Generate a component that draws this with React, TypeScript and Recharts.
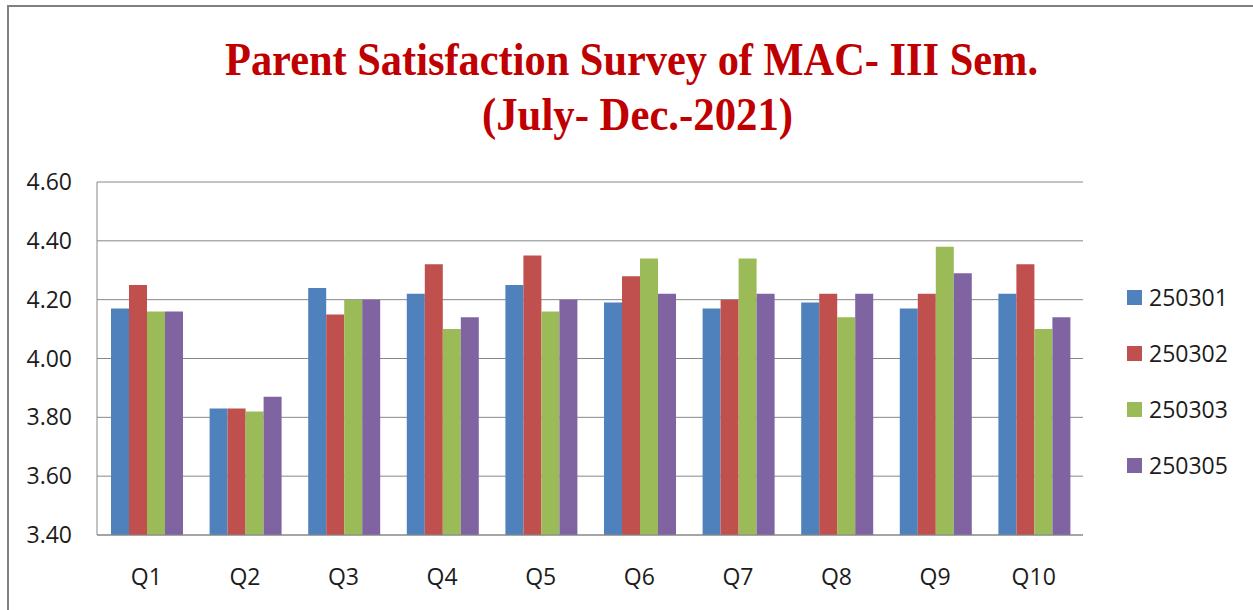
import { Bar, BarChart, CartesianGrid, XAxis, YAxis } from "recharts";

// Survey questions on the x axis
const QUESTIONS = ["Q1", "Q2", "Q3", "Q4", "Q5", "Q6", "Q7", "Q8", "Q9", "Q10"];

// Mean score per question, one array per course code
const S250301 = [4.17, 3.83, 4.24, 4.22, 4.25, 4.19, 4.17, 4.19, 4.17, 4.22];
const S250302 = [4.25, 3.83, 4.15, 4.32, 4.35, 4.28, 4.2, 4.22, 4.22, 4.32];
const S250303 = [4.16, 3.82, 4.2, 4.1, 4.16, 4.34, 4.34, 4.14, 4.38, 4.1];
const S250305 = [4.16, 3.87, 4.2, 4.14, 4.2, 4.22, 4.22, 4.22, 4.29, 4.14];

const Y_TICKS = [3.4, 3.6, 3.8, 4.0, 4.2, 4.4, 4.6];

const SERIES = [
  { key: "250301", values: S250301, color: "#4F81BD" },
  { key: "250302", values: S250302, color: "#C0504D" },
  { key: "250303", values: S250303, color: "#9BBB59" },
  { key: "250305", values: S250305, color: "#8064A2" },
];

const data = QUESTIONS.map((q, i) => {
  const row: Record<string, string | number> = { q };
  SERIES.forEach((s) => {
    row[s.key] = s.values[i];
  });
  return row;
});

const FONT = "'Open Sans', 'Noto Sans', sans-serif";
const GRID = "#878787";
const INK = "#1c1c1c";

// Legend kept outside the chart so it doesn't eat plot space
function LegendBox() {
  return (
    <div
      style={{
        position: "absolute",
        left: 1127,
        top: 269,
        fontFamily: FONT,
        fontSize: 23,
        color: INK,
      }}
    >
      {SERIES.map((s) => (
        <div key={s.key} style={{ display: "flex", alignItems: "center", height: 56 }}>
          <span style={{ width: 15, height: 15, background: s.color, marginRight: 7, display: "inline-block" }} />
          <span>{s.key}</span>
        </div>
      ))}
    </div>
  );
}

export default function App() {
  return (
    <div style={{ position: "relative", width: 1253, height: 610, background: "#fff", overflow: "hidden" }}>
      <style>{`body{margin:0}`}</style>
      {/* frame lines of the original slide */}
      <div
        style={{
          position: "absolute",
          left: 7,
          top: 5,
          width: 1260,
          height: 620,
          borderLeft: "2px solid #808080",
          borderTop: "2px solid #808080",
        }}
      />
      <BarChart
        width={1253}
        height={610}
        data={data}
        margin={{ top: 182, right: 170, bottom: 0, left: 0 }}
        barCategoryGap={14}
        barGap={0}
      >
        <CartesianGrid stroke={GRID} vertical={false} />
        <XAxis
          dataKey="q"
          height={75}
          tickLine={false}
          tickSize={0}
          tickMargin={34}
          axisLine={{ stroke: GRID }}
          tick={{ fill: INK, fontSize: 23, fontFamily: FONT }}
        />
        <YAxis
          width={97}
          domain={[3.4, 4.6]}
          ticks={Y_TICKS}
          tickFormatter={(v: number) => v.toFixed(2)}
          tickLine={false}
          tickSize={0}
          tickMargin={25}
          axisLine={{ stroke: GRID }}
          tick={{ fill: INK, fontSize: 23, fontFamily: FONT }}
          allowDataOverflow
        />
        {SERIES.map((s) => (
          <Bar key={s.key} dataKey={s.key} fill={s.color} isAnimationActive={false} />
        ))}
      </BarChart>
      <LegendBox />
      <svg
        width={1253}
        height={160}
        style={{ position: "absolute", left: 0, top: 0, pointerEvents: "none" }}
      >
        <text
          x={225}
          y={75}
          textLength={813}
          lengthAdjust="spacingAndGlyphs"
          fill="#C00000"
          fontFamily="'Liberation Serif', 'Times New Roman', serif"
          fontWeight="bold"
          fontSize={47}
        >
          Parent Satisfaction Survey of MAC- III Sem.
        </text>
        <text
          x={482}
          y={130}
          textLength={311}
          lengthAdjust="spacingAndGlyphs"
          fill="#C00000"
          fontFamily="'Liberation Serif', 'Times New Roman', serif"
          fontWeight="bold"
          fontSize={47}
        >
          (July- Dec.-2021)
        </text>
      </svg>
    </div>
  );
}
